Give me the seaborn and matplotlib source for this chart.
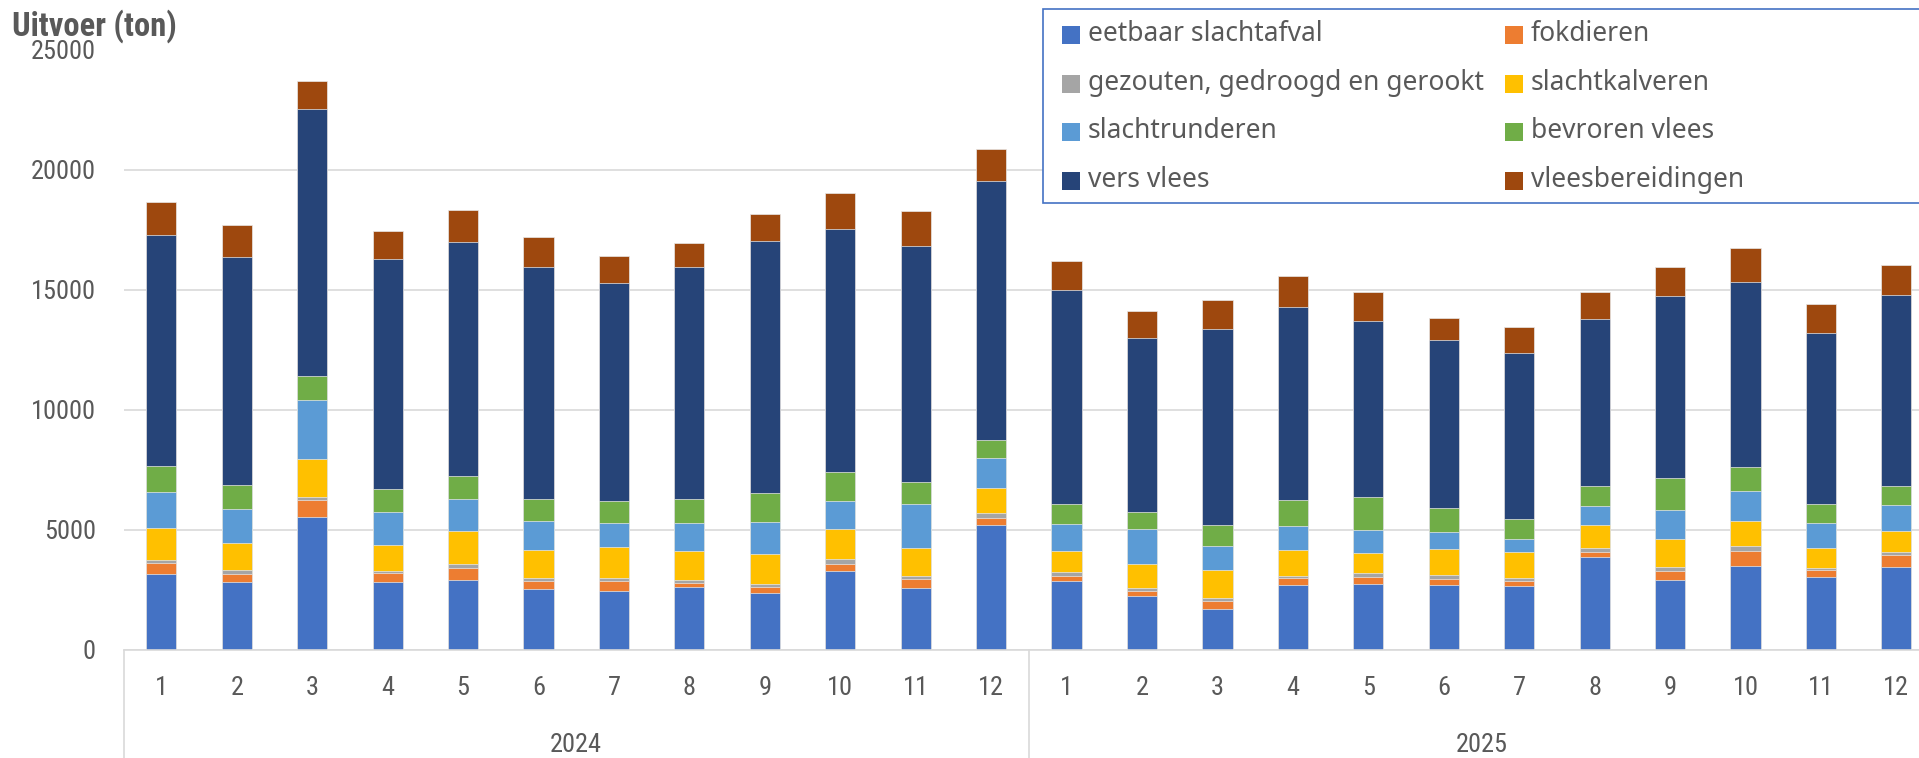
import matplotlib
matplotlib.use("Agg")
import matplotlib.pyplot as plt
import matplotlib.patches as mpatches
from matplotlib.lines import Line2D
from matplotlib import font_manager
import seaborn as sns
import numpy as np

# data (ton)
months = [str(m) for m in range(1, 13)] * 2
years = ['2024', '2025']

eetbaar_slachtafval = [3160, 2800, 5540, 2830, 2910, 2510, 2460, 2610, 2370, 3290, 2580, 5180,
                       2860, 2250, 1680, 2690, 2730, 2690, 2660, 3840, 2890, 3500, 3040, 3460]
fokdieren = [440, 360, 710, 350, 510, 330, 390, 180, 240, 290, 380, 320,
             220, 210, 350, 310, 280, 240, 210, 240, 380, 600, 260, 490]
gezouten = [140, 140, 110, 110, 140, 130, 140, 130, 140, 210, 110, 180,
            170, 110, 130, 80, 170, 190, 110, 170, 190, 210, 110, 110]
slachtkalveren = [1310, 1140, 1560, 1070, 1390, 1170, 1280, 1170, 1240, 1250, 1170, 1040,
                  850, 1010, 1170, 1060, 860, 1070, 1070, 920, 1130, 1040, 820, 880]
slachtrunderen = [1510, 1400, 2470, 1360, 1310, 1200, 990, 1180, 1330, 1140, 1820, 1260,
                  1130, 1430, 990, 1000, 930, 690, 560, 810, 1220, 1250, 1030, 1100]
bevroren_vlees = [1080, 1000, 1000, 970, 970, 940, 950, 1010, 1190, 1210, 930, 750,
                  830, 720, 890, 1100, 1390, 1030, 820, 850, 1350, 1000, 790, 780]
vers_vlees = [9640, 9530, 11130, 9570, 9740, 9650, 9070, 9670, 10510, 10150, 9820, 10790,
              8940, 7260, 8150, 8030, 7320, 6970, 6930, 6940, 7580, 7710, 7140, 7960]
vleesbereidingen = [1360, 1320, 1180, 1180, 1330, 1240, 1100, 1000, 1130, 1500, 1470, 1320,
                    1180, 1130, 1220, 1310, 1210, 920, 1080, 1140, 1200, 1430, 1210, 1250]

series = [
    ("eetbaar slachtafval", eetbaar_slachtafval, "#4472C4"),
    ("fokdieren", fokdieren, "#ED7D31"),
    ("gezouten, gedroogd en gerookt", gezouten, "#A5A5A5"),
    ("slachtkalveren", slachtkalveren, "#FFC000"),
    ("slachtrunderen", slachtrunderen, "#5B9BD5"),
    ("bevroren vlees", bevroren_vlees, "#70AD47"),
    ("vers vlees", vers_vlees, "#264478"),
    ("vleesbereidingen", vleesbereidingen, "#9E480E"),
]

sns.set_style("white")
installed = {f.name for f in font_manager.fontManager.ttflist}
narrow = 'DejaVu Sans'
for cand in ['Liberation Sans Narrow', 'Roboto Condensed', 'Open Sans Condensed']:
    if cand in installed:
        narrow = cand
        break
stretch = 'normal' if narrow != 'DejaVu Sans' else 'condensed'
legend_font = 'DejaVu Sans'
for cand in ['Noto Sans', 'Open Sans', 'Roboto']:
    if cand in installed:
        legend_font = cand
        break
plt.rcParams['font.family'] = [narrow, 'DejaVu Sans']
txt = '#595959'
grid = '#D9D9D9'

W, H = 1919, 758
fig = plt.figure(figsize=(W / 100, H / 100), dpi=100)
ax_left, ax_bottom_px, ax_top_px = 123.6, 649.6, 49.5
ax = fig.add_axes([ax_left / W, 1 - ax_bottom_px / H, 1 - ax_left / W, (ax_bottom_px - ax_top_px) / H])

pos = list(range(len(months)))
cum = np.zeros(len(months))
tops = []
for name, vals, col in series:
    cum = cum + np.array(vals)
    tops.append((name, cum.copy(), col))

# draw cumulative totals from the top layer down so the stack builds up
for name, top, col in reversed(tops):
    sns.barplot(x=pos, y=top, color=col, width=0.4, errorbar=None, saturation=1,
                edgecolor='#E8E8E8', linewidth=0.5, ax=ax)

ax.set_xlim(-0.5, 23.3)
ax.set_ylim(0, 25000)
ax.set_xlabel('')
ax.set_ylabel('')
ax.set_axisbelow(True)
ax.yaxis.grid(True, color=grid, linewidth=1.2)
ax.xaxis.grid(False)
for s in ['top', 'right', 'left']:
    ax.spines[s].set_visible(False)
ax.spines['bottom'].set_color(grid)
ax.spines['bottom'].set_linewidth(1.2)

ax.set_yticks(range(0, 25001, 5000))
ax.set_yticklabels([str(v) for v in range(0, 25001, 5000)], fontsize=19, color=txt,
                   fontstretch=stretch)
ax.tick_params(axis='y', length=0, pad=20)
ax.set_xticks(pos)
ax.set_xticklabels(months, fontsize=19, color=txt, fontstretch=stretch)
ax.tick_params(axis='x', length=0, pad=28)
for lab in ax.get_xticklabels():
    lab.set_va('center')

# year level of the category axis
ytr = ax.get_xaxis_transform()
year_y = -(745 - ax_bottom_px) / (ax_bottom_px - ax_top_px)
for i, yr in enumerate(years):
    ax.text(5.5 + 12 * i, year_y, yr, transform=ytr, ha='center', va='center',
            fontsize=19, color=txt, fontstretch=stretch)
for xv in [-0.5, 11.5]:
    ax.add_line(Line2D([xv, xv], [0, -0.3], transform=ytr, color=grid, linewidth=1.2,
                       clip_on=False))

fig.text(12 / W, 1 - 26 / H, 'Uitvoer (ton)', fontsize=23.5, fontweight='bold', color=txt,
         va='center', ha='left', fontstretch=stretch)

# legend box (runs off the right edge like the reference)
fig.patches.append(mpatches.Rectangle((1043 / W, 1 - 203 / H), 1.0, (203 - 9) / H,
                                      transform=fig.transFigure, facecolor='white',
                                      edgecolor='#4472C4', linewidth=1.2, zorder=5))
hx = [1062, 1505]
tx = [1088, 1531]
sq = 18
for i, (name, vals, col) in enumerate(series):
    c, r = i % 2, i // 2
    yc = 35 + r * 48.7
    fig.patches.append(mpatches.Rectangle((hx[c] / W, 1 - (yc + sq / 2) / H), sq / W, sq / H,
                                          transform=fig.transFigure, facecolor=col,
                                          edgecolor='none', zorder=6))
    fig.text(tx[c] / W, 1 - (yc - 1) / H, name, fontsize=19, color=txt, va='center', ha='left',
             family=[legend_font, 'DejaVu Sans'], zorder=7)

fig.savefig('out.png', dpi=100)
